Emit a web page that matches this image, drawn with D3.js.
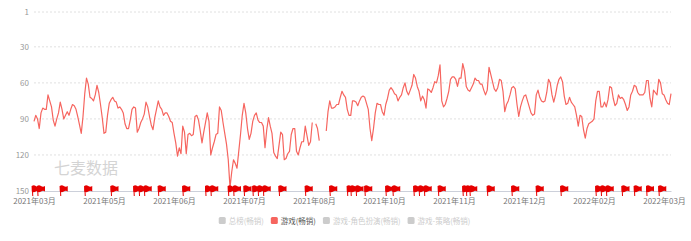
<!DOCTYPE html>
<html>
<head>
<meta charset="utf-8">
<script src="https://cdn.jsdelivr.net/npm/d3@7"></script>
<style>
  body { margin: 0; background: #fff; }
  text { font-family: "Noto Sans CJK SC", "Noto Sans", sans-serif; }
</style>
</head>
<body>
<script>
// rank data, one value per day starting 2021-03-23 (null = no data)
const startDate = new Date(2021, 2, 23);
const rankData = [
  92, 87, 90, 98, 85, 81, 82, 82, 70, 75,
  80, 91, 96, 90, 85, 76, 82, 90, 87, 84,
  87, 82, 78, 79, 82, 88, 95, 102, 88, 69,
  56, 61, 72, 73, 75, 70, 62, 68, 78, 89,
  102, 101, 87, 77, 74, 72, 75, 76, 81, 80,
  82, 85, 94, 98, 98, 91, 82, 80, 81, 101,
  98, 93, 90, 86, 76, 80, 88, 95, 99, 89,
  82, 75, 80, 82, 87, 85, 85, 88, 92, 93,
  102, 110, 121, 114, 119, 96, 101, 119, 103, 102,
  104, 103, 88, 87, 91, 100, 110, 101, 93, 85,
  92, 120, 114, 109, 103, 102, 80, 83, 93, 102,
  111, 124, 147, 134, 124, 127, 131, 117, 103, 87,
  77, 85, 98, 107, 102, 92, 87, 85, 91, 93,
  93, 96, 114, 99, 89, 96, 102, 118, 121, 123,
  112, 101, 103, 124, 123, 119, 117, 103, 98, 98,
  117, 120, 114, 109, 109, 96, 104, 112, 109, 93,
  null, 94, 98, 108, null, null, null, 100, 84, 75,
  81, 81, 80, 78, 78, 72, 67, 70, 72, 82,
  87, 87, 75, 75, 76, 79, 75, 72, 71, 72,
  77, 82, 98, 108, 98, 85, 77, 78, 78, 84,
  87, 78, 73, 66, 64, 66, 69, 70, 75, 72,
  70, 64, 60, 67, 70, 66, 62, 53, 56, 63,
  67, 75, 71, 74, 81, 65, 66, 68, 64, 59,
  60, 54, 45, 75, 80, 78, 73, 67, 57, 55,
  55, 57, 63, 56, 56, 44, 50, 63, 66, 67,
  64, 61, 56, 58, 58, 61, 61, 66, 70, 66,
  47, 53, 59, 65, 67, 64, 57, 58, 67, 84,
  78, 75, 70, 64, 63, 65, 78, 88, 80, 75,
  71, 70, 75, 80, 85, 87, 86, 70, 66, 72,
  75, 76, 75, 68, 57, 60, 70, 76, 70, 62,
  57, 55, 59, 71, 78, 77, 72, 76, 78, 80,
  87, 96, 87, 88, 99, 106, 98, 94, 93, 92,
  90, 75, 67, 67, 80, 80, 76, 80, 74, 63,
  64, 73, 79, 77, 70, 73, 72, 74, 78, 83,
  80, 70, 67, 62, 63, 68, 70, 70, 70, 68,
  58, 58, 73, 80, 66, 68, 70, 57, 60, 69,
  70, 74, 77, 78, 69
];

// days (index into rankData) that carry an event flag
const eventDays = [
  1, 4, 17, 31, 46, 59, 62, 65, 73, 87, 100, 103, 113, 116, 122,
  127, 130, 133, 142, 157, 171, 181, 183, 186, 191, 203, 207,
  219, 222, 225, 233, 247, 249, 251, 261, 275, 289, 303,
  323, 326, 329, 338, 345, 352, 359
];

const yTicks = [1, 30, 60, 90, 120, 150];
const legendNames = ['总榜(畅销)', '游戏(畅销)', '游戏-角色扮演(畅销)', '游戏-策略(畅销)'];
const legendActive = [false, true, false, false];

const [w, h] = [691, 241];
const padL = 34, padR = 671, padT = 12, padB = 191;
const lineColor = '#f6655f';

// one category per day
const dates = rankData.map((d, i) => d3.timeDay.offset(startDate, i));

const svg = d3.select('body').append('svg')
    .attr('width', w)
    .attr('height', h);

const xScale = d3.scalePoint()
    .domain(dates)
    .range([padL, padR]);

const yScale = d3.scaleLinear()
    .domain([1, 150])
    .range([padT, padB]);

// grid lines (dashed)
svg.append('g')
    .selectAll('line')
    .data(yTicks.filter(t => t !== 150))
    .join('line')
    .attr('x1', padL).attr('x2', padR)
    .attr('y1', d => yScale(d)).attr('y2', d => yScale(d))
    .attr('stroke', '#e0e0e0')
    .attr('stroke-dasharray', '2,2');

// y axis labels
const yAxis = d3.axisLeft(yScale).tickValues(yTicks).tickSize(0).tickPadding(5);
svg.append('g')
    .attr('transform', `translate(${padL},0)`)
    .call(yAxis)
    .call(g => g.select('.domain').remove())
    .call(g => g.selectAll('text')
        .attr('fill', '#999')
        .style('font-size', '8px')
        .style('font-family', '"Noto Sans CJK SC", sans-serif'));

// x axis, one label every 40 days
const fmt = d3.timeFormat('%Y年%m月');
const xAxis = d3.axisBottom(xScale)
    .tickValues(dates.filter((d, i) => i % 40 === 0))
    .tickFormat(fmt)
    .tickSize(0)
    .tickPadding(7);
svg.append('g')
    .attr('transform', `translate(0,${padB})`)
    .call(xAxis)
    .call(g => g.select('.domain').attr('stroke', '#ccd0da'))
    .call(g => g.selectAll('text')
        .attr('fill', '#777')
        .style('font-size', '8px')
        .style('font-family', '"Noto Sans CJK SC", sans-serif'));

// watermark
svg.append('text')
    .attr('x', 86).attr('y', 174)
    .attr('text-anchor', 'middle')
    .attr('fill', '#d4d4d4')
    .style('font-size', '16px')
    .text('七麦数据');

// rank line
const line = d3.line()
    .defined(d => d != null)
    .x((d, i) => xScale(dates[i]))
    .y(d => yScale(d));

svg.append('path')
    .datum(rankData)
    .attr('fill', 'none')
    .attr('stroke', lineColor)
    .attr('stroke-width', 1.2)
    .attr('stroke-linejoin', 'round')
    .attr('d', line);

// event flags along the bottom
const flags = svg.append('g')
    .selectAll('g')
    .data(eventDays)
    .join('g')
    .attr('transform', d => `translate(${xScale(dates[d]) - 4},0)`);

flags.append('path')
    .attr('d', `M0,${padB - 5} q2,-1.5 4,0 t4,0 v5.5 q-2,-1.5 -4,0 t-4,0 z`)
    .attr('fill', '#e60000');
flags.append('line')
    .attr('x1', 0.5).attr('y1', padB - 5)
    .attr('x2', 1).attr('y2', padB + 5)
    .attr('stroke', '#e60000')
    .attr('stroke-width', 1);

// legend
const legend = svg.append('g');
let lx = 0;
legendNames.forEach((name, i) => {
    const item = legend.append('g').attr('transform', `translate(${lx},0)`);
    item.append('rect')
        .attr('x', 0).attr('y', 217)
        .attr('width', 7).attr('height', 7)
        .attr('rx', 1.5)
        .attr('fill', legendActive[i] ? lineColor : '#ccc');
    const t = item.append('text')
        .attr('x', 10).attr('y', 223.5)
        .attr('fill', legendActive[i] ? '#555' : '#ccc')
        .style('font-size', '7.5px')
        .text(name);
    lx += 10 + t.node().getComputedTextLength() + 7;
});
legend.attr('transform', `translate(${(w - (lx - 7)) / 2 - 1},0)`);
</script>
</body>
</html>
